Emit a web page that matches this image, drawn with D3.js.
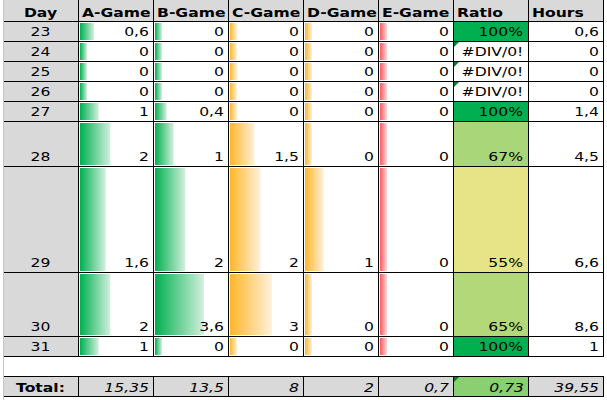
<!DOCTYPE html>
<html>
<head>
<meta charset="utf-8">
<script src="https://cdn.jsdelivr.net/npm/d3@7"></script>
<style>
  html, body { margin: 0; padding: 0; background: #fff; }
  svg { display: block; }
</style>
</head>
<body>
<svg width="607" height="400"></svg>
<script>
// table data
const headers = ["Day", "A-Game", "B-Game", "C-Game", "D-Game", "E-Game", "Ratio", "Hours"];
const days = [23, 24, 25, 26, 27, 28, 29, 30, 31];
const aGame = [0.6, 0, 0, 0, 1, 2, 1.6, 2, 1];
const bGame = [0, 0, 0, 0, 0.4, 1, 2, 3.6, 0];
const cGame = [0, 0, 0, 0, 0, 1.5, 2, 3, 0];
const dGame = [0, 0, 0, 0, 0, 0, 1, 0, 0];
const eGame = [0, 0, 0, 0, 0, 0, 0, 0, 0];
const ratio = [1, null, null, null, 1, 0.67, 0.55, 0.65, 1];
const hours = [0.6, 0, 0, 0, 1.4, 4.5, 6.6, 8.6, 1];
const totals = [15.35, 13.5, 8, 2, 0.7, 0.73, 39.55];

// layout
const rowHeights = [20, 20, 20, 20, 20, 45, 106, 64, 20];
const headTop = 1, headBottom = 21, gapHeight = 20, totalHeight = 20;
const sx = 1.3; // text is drawn wide in the reference
const fontSize = 12;

const svg = d3.select("svg");
const locale = d3.formatLocale({ decimal: ",", thousands: ".", grouping: [3], currency: ["", "€"] });
const fmt = locale.format("~g");
const pct = locale.format(".0%");

const x = d3.scaleBand().domain(headers).range([3, 603]);

let yEdges = [headBottom];
rowHeights.forEach((h) => yEdges.push(yEdges[yEdges.length - 1] + h));
const tableBottom = yEdges[yEdges.length - 1];
const totalTop = tableBottom + gapHeight;
const totalBottom = totalTop + totalHeight;

const games = [
  { key: "A-Game", values: aGame, color: "#00b050", light: "#d4f0de" },
  { key: "B-Game", values: bGame, color: "#00b050", light: "#d4f0de" },
  { key: "C-Game", values: cGame, color: "#ffb628", light: "#fff1dc" },
  { key: "D-Game", values: dGame, color: "#ffb628", light: "#fff1dc" },
  { key: "E-Game", values: eGame, color: "#ff5a5f", light: "#ffd8d9" }
];

const allGame = games.flatMap((g) => g.values);
const barLen = d3.scaleLinear().domain([0, d3.max(allGame)]).range([7, 49]);

const ratioVals = ratio.filter((r) => r != null).concat([totals[5]]);
const ratioColor = d3.scaleLinear().domain(d3.extent(ratioVals)).range(["#e6e486", "#00b050"]);

const defs = svg.append("defs");
games.forEach((g, i) => {
  const grad = defs.append("linearGradient").attr("id", "grad" + i).attr("x1", 0).attr("x2", 1).attr("y1", 0).attr("y2", 0);
  grad.append("stop").attr("offset", 0).attr("stop-color", g.color);
  grad.append("stop").attr("offset", 1).attr("stop-color", g.light);
});

// backgrounds
svg.append("rect").attr("x", 3).attr("y", 0).attr("width", 600).attr("height", headBottom).attr("fill", "#d9d9d9");
svg.append("rect").attr("x", 3).attr("y", headBottom).attr("width", x.bandwidth()).attr("height", tableBottom - headBottom).attr("fill", "#d9d9d9");
svg.append("rect").attr("x", 3).attr("y", totalTop).attr("width", 600).attr("height", totalHeight).attr("fill", "#d9d9d9");

// ratio cell fills
const ratioGroup = svg.append("g");
ratio.forEach((r, i) => {
  if (r == null) return;
  ratioGroup.append("rect")
    .attr("x", x("Ratio")).attr("y", yEdges[i])
    .attr("width", x.bandwidth()).attr("height", rowHeights[i])
    .attr("fill", ratioColor(r));
});
ratioGroup.append("rect")
  .attr("x", x("Ratio")).attr("y", totalTop)
  .attr("width", x.bandwidth()).attr("height", totalHeight)
  .attr("fill", ratioColor(totals[5]));

// data bars
const bars = svg.append("g");
games.forEach((g, gi) => {
  bars.selectAll(".bar" + gi)
    .data(g.values)
    .join("rect")
    .attr("x", x(g.key) + 2)
    .attr("y", (d, i) => yEdges[i] + 2)
    .attr("width", (d) => barLen(d))
    .attr("height", (d, i) => rowHeights[i] - 3)
    .attr("fill", `url(#grad${gi})`);
});

// error indicator triangles
const errRows = ratio.map((r, i) => (r == null ? yEdges[i] : null)).filter((v) => v != null);
errRows.push(totalTop);
svg.selectAll(".err")
  .data(errRows)
  .join("path")
  .attr("d", (d) => `M${x("Ratio") + 1},${d + 1}h5l-5,5z`)
  .attr("fill", "#00802b");

// grid lines
const grid = svg.append("g").attr("stroke", "#000").attr("stroke-width", 1);
const lineYs = yEdges.concat([totalTop, totalBottom]);
lineYs.forEach((yy) => {
  grid.append("line").attr("x1", 3).attr("x2", 604).attr("y1", yy + 0.5).attr("y2", yy + 0.5);
});
headers.slice(1).concat(["end"]).forEach((h) => {
  const xx = h === "end" ? 603 : x(h);
  grid.append("line").attr("x1", xx + 0.5).attr("x2", xx + 0.5).attr("y1", 0).attr("y2", tableBottom + 1);
  grid.append("line").attr("x1", xx + 0.5).attr("x2", xx + 0.5).attr("y1", totalTop).attr("y2", totalBottom + 1);
});
svg.append("line").attr("x1", 3.5).attr("x2", 3.5).attr("y1", 0).attr("y2", 400).attr("stroke", "#c6c6c6");

// text helper
function label(tx, ty, str, anchor, opts = {}) {
  return svg.append("text")
    .attr("transform", `translate(${tx},${ty}) scale(${sx},1)`)
    .attr("text-anchor", anchor)
    .attr("font-family", "DejaVu Sans, Verdana, sans-serif")
    .attr("font-size", fontSize)
    .attr("font-weight", opts.bold ? "bold" : "normal")
    .attr("font-style", opts.italic ? "italic" : "normal")
    .attr("fill", "#000")
    .text(str);
}

// headers
headers.forEach((h, i) => {
  if (i === 0) label(x(h) + x.bandwidth() / 2, 17, h, "middle", { bold: true });
  else label(x(h) + 4, 17, h, "start", { bold: true });
});

// rows
days.forEach((d, i) => {
  const base = yEdges[i + 1] - 5;
  label(x("Day") + x.bandwidth() / 2, base, d, "middle");
  games.forEach((g) => label(x(g.key) + x.bandwidth() - 4, base, fmt(g.values[i]), "end"));
  if (ratio[i] == null) label(x("Ratio") + x.bandwidth() / 2 + 2, base, "#DIV/0!", "middle");
  else label(x("Ratio") + x.bandwidth() - 5, base, pct(ratio[i]), "end");
  label(x("Hours") + x.bandwidth() - 4, base, fmt(hours[i]), "end");
});

// totals
label(x("Day") + x.bandwidth() / 2, totalBottom - 4, "Total:", "middle", { bold: true });
headers.slice(1).forEach((h, i) => {
  label(x(h) + x.bandwidth() - 4, totalBottom - 4, fmt(totals[i]), "end", { italic: true });
});
</script>
</body>
</html>
